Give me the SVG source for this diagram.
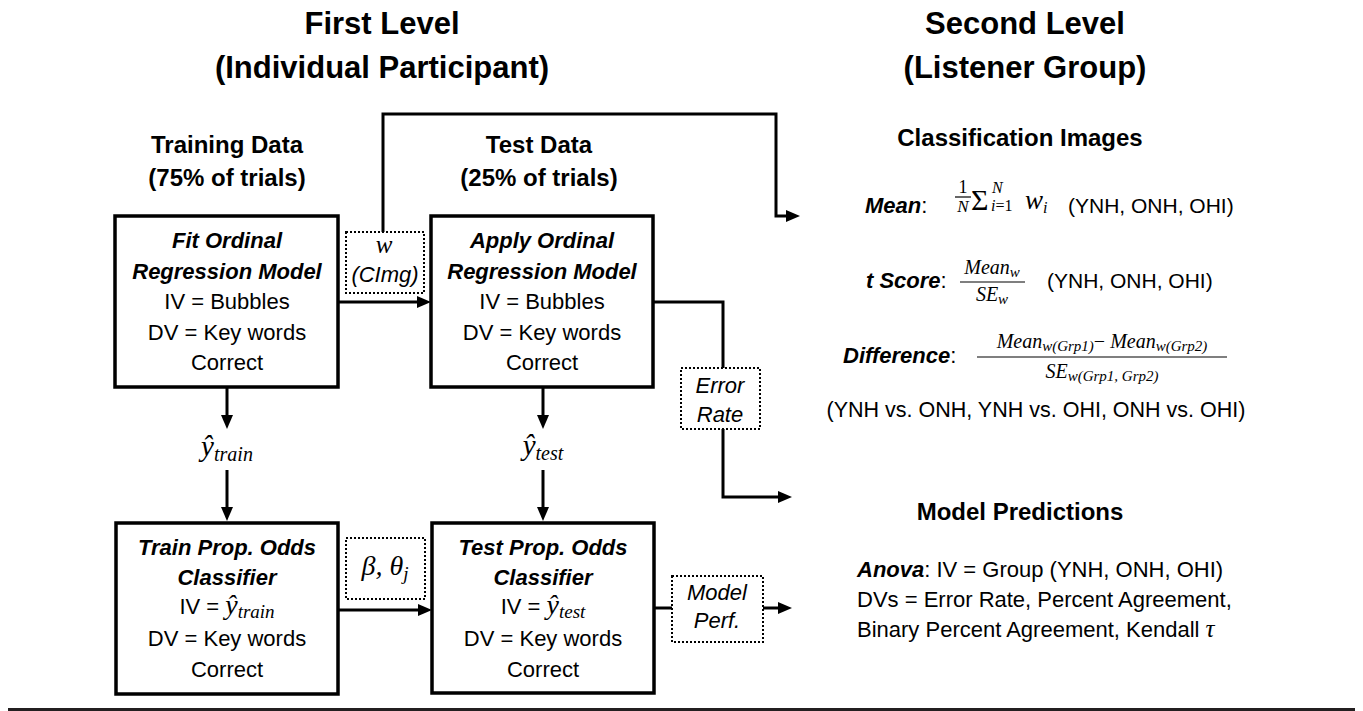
<svg xmlns="http://www.w3.org/2000/svg" width="1363" height="711" viewBox="0 0 1363 711">
<style>
.box{fill:#fff;stroke:#000;stroke-width:3.5}
.dot{fill:#fff;stroke:#000;stroke-width:2;stroke-dasharray:2 2}
.ln{fill:none;stroke:#000;stroke-width:3}
.s{font-family:"Liberation Sans",Arial,sans-serif;fill:#000}
.m{font-family:"Liberation Serif","Times New Roman",serif;font-style:italic;fill:#000}
.up{font-style:normal}
.title{font-size:31px;font-weight:bold}
.hd{font-size:24px;font-weight:bold}
.bi{font-size:22px;font-weight:bold;font-style:italic}
.t{font-size:22px}
.it{font-size:22px;font-style:italic}
</style>
<defs>
<marker id="ah" viewBox="0 0 14 12" markerWidth="14" markerHeight="12" refX="2" refY="6" orient="auto" markerUnits="userSpaceOnUse">
<path d="M0,0 L14,6 L0,12 z" fill="#000"/>
</marker>
</defs>
<rect width="1363" height="711" fill="#fff"/>

<g id="titles" class="s">
<text class="title" x="382" y="34" text-anchor="middle">First Level</text>
<text class="title" x="382" y="78" text-anchor="middle">(Individual Participant)</text>
<text class="title" x="1025" y="34" text-anchor="middle">Second Level</text>
<text class="title" x="1025" y="78" text-anchor="middle">(Listener Group)</text>
<text class="hd" x="227" y="153" text-anchor="middle">Training Data</text>
<text class="hd" x="227" y="186" text-anchor="middle">(75% of trials)</text>
<text class="hd" x="539" y="153" text-anchor="middle">Test Data</text>
<text class="hd" x="539" y="186" text-anchor="middle">(25% of trials)</text>
</g>

<g id="connectors">
<path class="ln" d="M383,232 V114 H776 V216 H788" marker-end="url(#ah)"/>
<path class="ln" d="M338,302 H419" marker-end="url(#ah)"/>
<path class="ln" d="M338,610 H420" marker-end="url(#ah)"/>
<path class="ln" d="M227,387 V417" marker-end="url(#ah)"/>
<path class="ln" d="M227,470 V509" marker-end="url(#ah)"/>
<path class="ln" d="M543,387 V417" marker-end="url(#ah)"/>
<path class="ln" d="M543,470 V509" marker-end="url(#ah)"/>
<path class="ln" d="M653,302 H723 V368"/>
<path class="ln" d="M723,429 V497 H780" marker-end="url(#ah)"/>
<path class="ln" d="M654,608 H672"/>
<path class="ln" d="M763,608 H780" marker-end="url(#ah)"/>
</g>

<g id="fit">
<rect class="box" x="115" y="216" width="223" height="171"/>
<text class="s bi" x="227" y="248" text-anchor="middle">Fit Ordinal</text>
<text class="s bi" x="227" y="279" text-anchor="middle">Regression Model</text>
<text class="s t" x="227" y="309" text-anchor="middle">IV = Bubbles</text>
<text class="s t" x="227" y="340" text-anchor="middle">DV = Key words</text>
<text class="s t" x="227" y="370" text-anchor="middle">Correct</text>
</g>

<g id="apply">
<rect class="box" x="431" y="216" width="222" height="171"/>
<text class="s bi" x="542" y="248" text-anchor="middle">Apply Ordinal</text>
<text class="s bi" x="542" y="279" text-anchor="middle">Regression Model</text>
<text class="s t" x="542" y="309" text-anchor="middle">IV = Bubbles</text>
<text class="s t" x="542" y="340" text-anchor="middle">DV = Key words</text>
<text class="s t" x="542" y="370" text-anchor="middle">Correct</text>
</g>

<g id="train">
<rect class="box" x="116" y="523" width="222" height="171"/>
<text class="s bi" x="227" y="555" text-anchor="middle">Train Prop. Odds</text>
<text class="s bi" x="227" y="585" text-anchor="middle">Classifier</text>
<text x="227" y="614" text-anchor="middle"><tspan class="s t">IV = </tspan><tspan class="m" font-size="28">ŷ</tspan><tspan class="m" font-size="19" dy="4">train</tspan></text>
<text class="s t" x="227" y="646" text-anchor="middle">DV = Key words</text>
<text class="s t" x="227" y="677" text-anchor="middle">Correct</text>
</g>

<g id="test">
<rect class="box" x="432" y="523" width="222" height="170"/>
<text class="s bi" x="543" y="555" text-anchor="middle">Test Prop. Odds</text>
<text class="s bi" x="543" y="585" text-anchor="middle">Classifier</text>
<text x="543" y="614" text-anchor="middle"><tspan class="s t">IV = </tspan><tspan class="m" font-size="28">ŷ</tspan><tspan class="m" font-size="19" dy="4">test</tspan></text>
<text class="s t" x="543" y="646" text-anchor="middle">DV = Key words</text>
<text class="s t" x="543" y="677" text-anchor="middle">Correct</text>
</g>

<g id="w-cimg">
<rect class="dot" x="346" y="232" width="78" height="61"/>
<text class="m" font-size="25" x="384" y="253" text-anchor="middle">w</text>
<text class="s it" x="385" y="282" text-anchor="middle">(CImg)</text>
</g>

<g id="beta-theta">
<rect class="dot" x="346" y="538" width="79" height="61"/>
<text x="385" y="575" text-anchor="middle"><tspan class="m" font-size="28">β, θ</tspan><tspan class="m" font-size="19" dy="5">j</tspan></text>
</g>

<g id="error-rate">
<rect class="dot" x="681" y="368" width="79" height="61"/>
<text class="s it" x="720" y="393" text-anchor="middle">Error</text>
<text class="s it" x="720" y="422" text-anchor="middle">Rate</text>
</g>

<g id="model-perf">
<rect class="dot" x="672" y="576" width="91" height="66"/>
<text class="s it" x="717" y="600" text-anchor="middle">Model</text>
<text class="s it" x="717" y="628" text-anchor="middle">Perf.</text>
</g>

<g id="y-train">
<text x="227" y="456" text-anchor="middle"><tspan class="m" font-size="29">ŷ</tspan><tspan class="m" font-size="20" dy="5">train</tspan></text>
</g>
<g id="y-test">
<text x="543" y="455" text-anchor="middle"><tspan class="m" font-size="29">ŷ</tspan><tspan class="m" font-size="20" dy="5">test</tspan></text>
</g>

<g id="classification-images">
<text class="s hd" x="1020" y="146" text-anchor="middle">Classification Images</text>
<text class="s" font-size="22" x="865" y="213"><tspan font-weight="bold" font-style="italic">Mean</tspan>:</text>
<text class="m up" font-size="18" x="963" y="193" text-anchor="middle">1</text>
<line x1="955" y1="197" x2="971" y2="197" stroke="#000" stroke-width="1.2"/>
<text class="m" font-size="17" x="963" y="212" text-anchor="middle">N</text>
<text class="m up" font-size="30" x="971" y="210">Σ</text>
<text class="m" font-size="16" x="992" y="193">N</text>
<text class="m" font-size="16" x="991" y="211">i<tspan class="up">=1</tspan></text>
<text class="m" font-size="27" x="1025" y="209">w<tspan font-size="16" dy="4">i</tspan></text>
<text class="s" font-size="21" x="1068" y="213">(YNH, ONH, OHI)</text>

<text class="s" font-size="22" x="866" y="288"><tspan font-weight="bold" font-style="italic">t Score</tspan>:</text>
<text class="m" font-size="20" x="992" y="274" text-anchor="middle">Mean<tspan font-size="15" dy="3">w</tspan></text>
<line x1="960" y1="282" x2="1025" y2="282" stroke="#000" stroke-width="1.2"/>
<text class="m" font-size="20" x="992" y="301" text-anchor="middle">SE<tspan font-size="15" dy="3">w</tspan></text>
<text class="s" font-size="21" x="1047" y="288">(YNH, ONH, OHI)</text>

<text class="s" font-size="22" x="843" y="363"><tspan font-weight="bold" font-style="italic">Difference</tspan>:</text>
<text class="m" font-size="20" x="1102" y="348" text-anchor="middle">Mean<tspan font-size="15" dy="3">w(Grp1)</tspan><tspan class="up" dy="-3">− </tspan>Mean<tspan font-size="15" dy="3">w(Grp2)</tspan></text>
<line x1="977" y1="357" x2="1227" y2="357" stroke="#000" stroke-width="1.2"/>
<text class="m" font-size="20" x="1102" y="378" text-anchor="middle">SE<tspan font-size="15" dy="3">w(Grp1, Grp2)</tspan></text>
<text class="s" font-size="21.5" x="1036" y="417" text-anchor="middle">(YNH vs. ONH, YNH vs. OHI, ONH vs. OHI)</text>
</g>

<g id="model-predictions">
<text class="s hd" x="1020" y="520" text-anchor="middle">Model Predictions</text>
<text class="s" font-size="22" x="857" y="577"><tspan font-weight="bold" font-style="italic">Anova</tspan>: IV = Group (YNH, ONH, OHI)</text>
<text class="s" font-size="22" x="857" y="607">DVs = Error Rate, Percent Agreement,</text>
<text class="s" font-size="22" x="857" y="637">Binary Percent Agreement, Kendall <tspan class="m" font-size="25">τ</tspan></text>
</g>

<rect x="8" y="708" width="1347" height="3" fill="#231f20"/>
</svg>
